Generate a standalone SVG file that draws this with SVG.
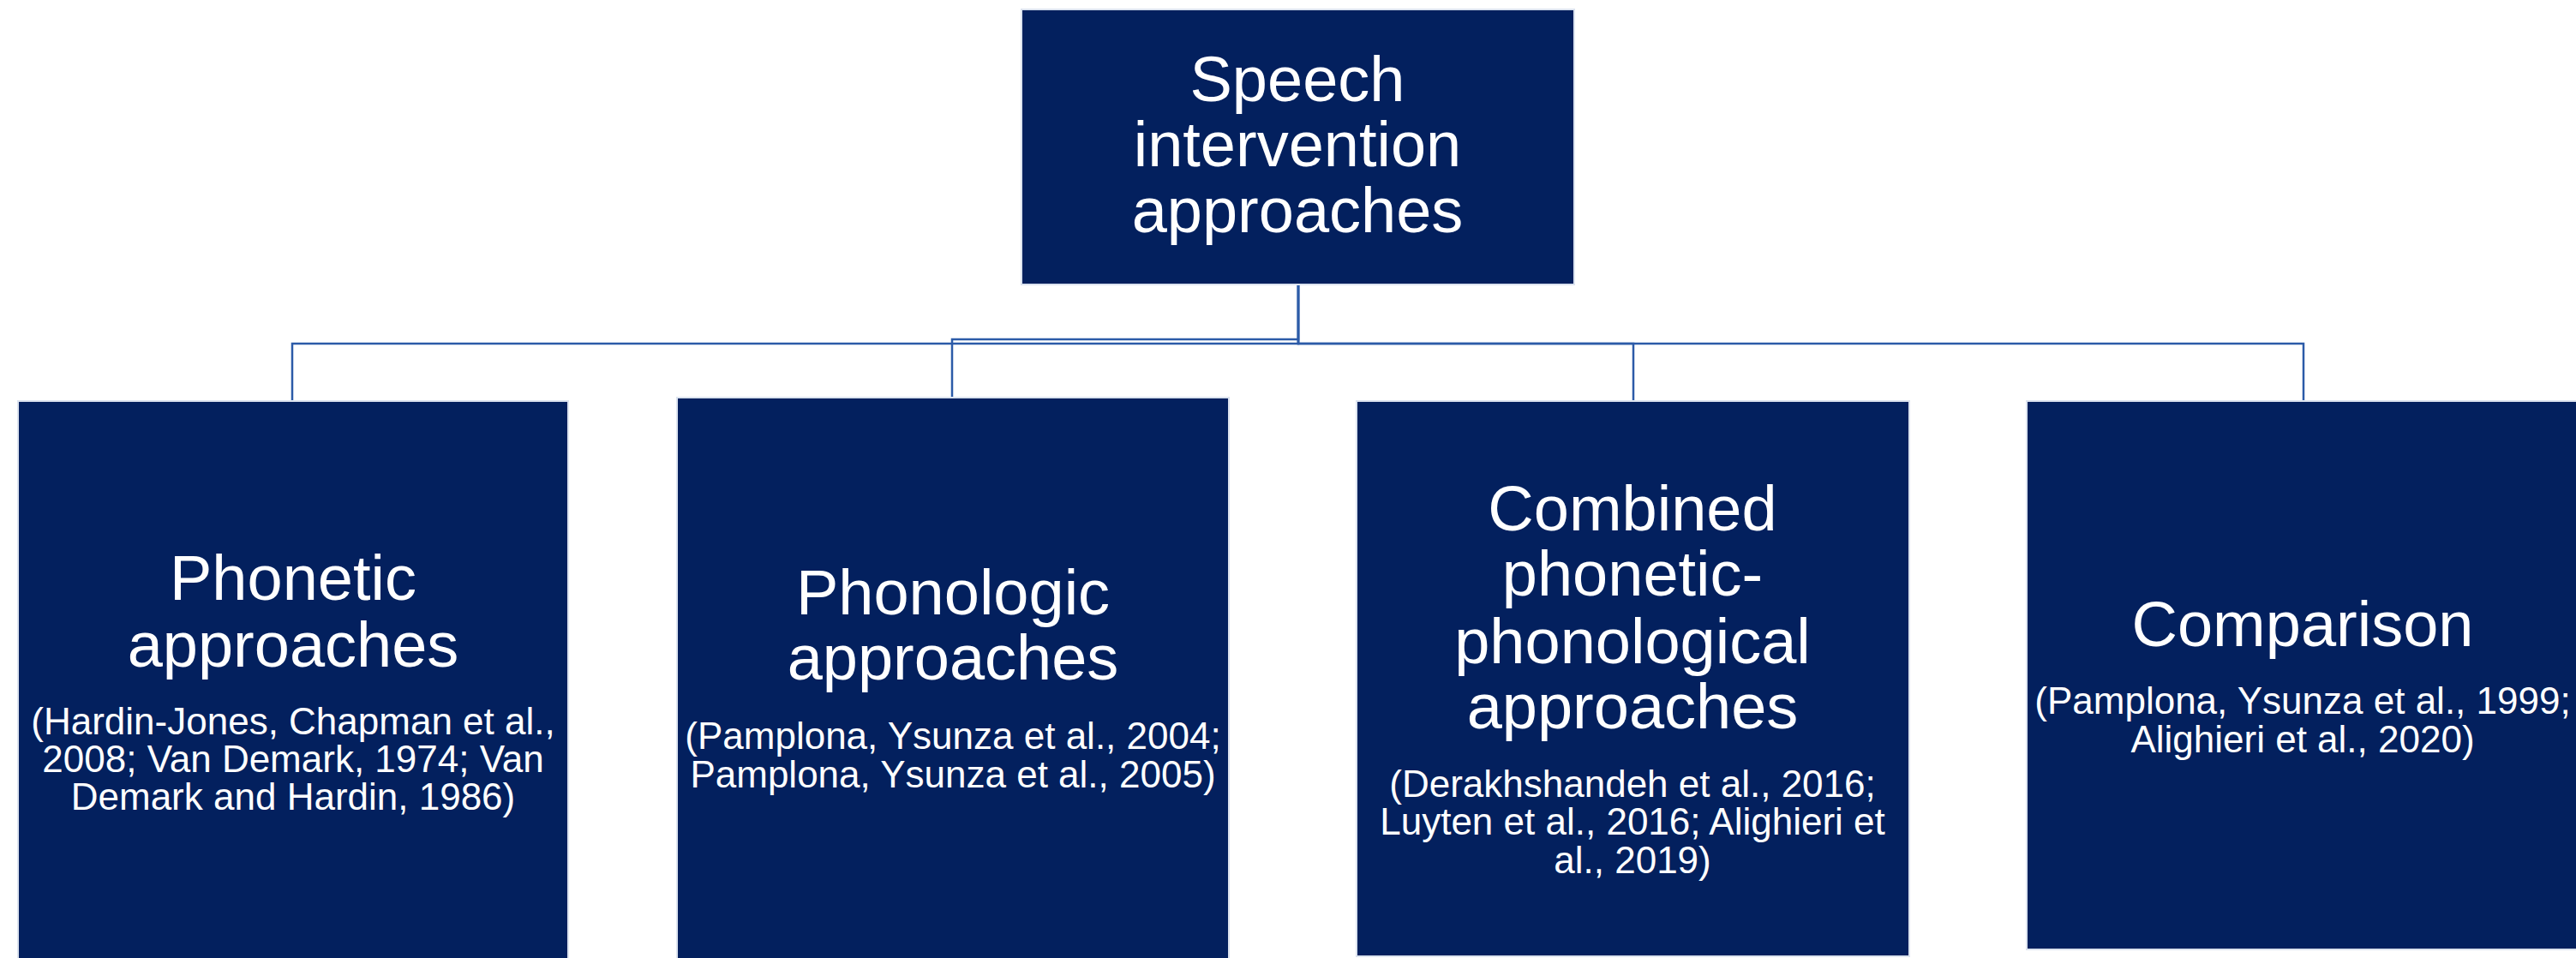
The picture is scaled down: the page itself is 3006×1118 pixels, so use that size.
<svg xmlns="http://www.w3.org/2000/svg" width="3006" height="1118" viewBox="0 0 3006 1118">
<style>
.box{fill:#03205E;stroke:#DCE3EF;stroke-width:2}
.t{font-family:"Liberation Sans",Arial,sans-serif;fill:#FFFFFF;text-anchor:middle}
.h{font-size:74px}
.c{font-size:44px}
.con{fill:none;stroke:#2C5BA8;stroke-width:2.5}
</style>
<rect width="3006" height="1118" fill="#FFFFFF"/>
<g id="connectors">
<path class="con" d="M1515,333 V401 H341 V468"/>
<path class="con" d="M1515,333 V396 H1111 V464"/>
<path class="con" d="M1515,333 V401 H1906 V468"/>
<path class="con" d="M1515,333 V401 H2688 V468"/>
</g>
<g id="root">
<rect class="box" x="1192" y="11" width="645" height="321"/>
<text class="t h" x="1514" y="118">Speech</text>
<text class="t h" x="1514" y="194">intervention</text>
<text class="t h" x="1514" y="271">approaches</text>
</g>
<g id="phonetic">
<rect class="box" x="21" y="468" width="642" height="660"/>
<text class="t h" x="342" y="700">Phonetic</text>
<text class="t h" x="342" y="778">approaches</text>
<text class="t c" x="342" y="857">(Hardin-Jones, Chapman et al.,</text>
<text class="t c" x="342" y="901">2008; Van Demark, 1974; Van</text>
<text class="t c" x="342" y="945">Demark and Hardin, 1986)</text>
</g>
<g id="phonologic">
<rect class="box" x="790" y="464" width="644" height="664"/>
<text class="t h" x="1112" y="717">Phonologic</text>
<text class="t h" x="1112" y="793">approaches</text>
<text class="t c" x="1112" y="874">(Pamplona, Ysunza et al., 2004;</text>
<text class="t c" x="1112" y="919">Pamplona, Ysunza et al., 2005)</text>
</g>
<g id="combined">
<rect class="box" x="1583" y="468" width="645" height="648"/>
<text class="t h" x="1905" y="619">Combined</text>
<text class="t h" x="1905" y="695">phonetic-</text>
<text class="t h" x="1905" y="774">phonological</text>
<text class="t h" x="1905" y="850">approaches</text>
<text class="t c" x="1905" y="930">(Derakhshandeh et al., 2016;</text>
<text class="t c" x="1905" y="974">Luyten et al., 2016; Alighieri et</text>
<text class="t c" x="1905" y="1019">al., 2019)</text>
</g>
<g id="comparison">
<rect class="box" x="2365" y="468" width="645" height="640"/>
<text class="t h" x="2687" y="754">Comparison</text>
<text class="t c" x="2687" y="833">(Pamplona, Ysunza et al., 1999;</text>
<text class="t c" x="2687" y="878">Alighieri et al., 2020)</text>
</g>
</svg>
